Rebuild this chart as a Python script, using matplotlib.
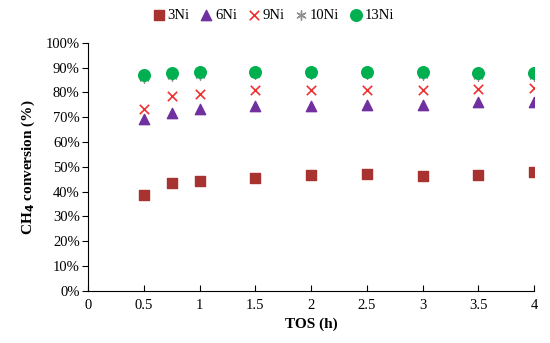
import matplotlib.pyplot as plt
from matplotlib.ticker import PercentFormatter

plt.rcParams['font.family'] = ['Liberation Serif', 'DejaVu Serif']

tos = [0.5, 0.75, 1, 1.5, 2, 2.5, 3, 3.5, 4]
ni3 = [38.7, 43.3, 44.5, 45.7, 46.9, 47.0, 46.5, 46.8, 48.0]
ni6 = [69.4, 71.8, 73.5, 74.6, 74.6, 75.0, 75.0, 76.2, 76.2]
ni9 = [73.3, 78.4, 79.4, 80.8, 80.9, 80.8, 80.8, 81.3, 81.7]
ni10 = [85.8, 86.6, 87.2, 87.3, 87.3, 87.3, 87.1, 86.8, 86.8]
ni13 = [87.1, 87.9, 88.4, 88.4, 88.4, 88.4, 88.2, 87.8, 87.8]

fig = plt.figure(figsize=(5.5, 3.43), dpi=100)
ax = fig.add_axes([0.16, 0.152, 0.811, 0.723])

ax.scatter(tos, ni3, marker='s', s=55, color='#A8322F', label='3Ni', zorder=3)
ax.scatter(tos, ni6, marker='^', s=55, color='#7030A0', label='6Ni', zorder=3)
ax.scatter(tos, ni9, marker='x', s=45, color='#F03030', linewidths=1.2, label='9Ni', zorder=3)
ax.scatter(tos, ni10, marker=(6, 2, 0), s=45, color='#909090', linewidths=1.0, label='10Ni', zorder=3)
ax.scatter(tos, ni13, marker='o', s=70, color='#00B050', label='13Ni', zorder=4)

ax.set_xlim(0, 4)
ax.set_ylim(0, 100)
ax.set_xticks([0, 0.5, 1, 1.5, 2, 2.5, 3, 3.5, 4])
ax.set_xticklabels(['0', '0.5', '1', '1.5', '2', '2.5', '3', '3.5', '4'])
ax.set_yticks(range(0, 101, 10))
ax.yaxis.set_major_formatter(PercentFormatter(decimals=0))
ax.tick_params(axis='y', direction='out', length=4, labelsize=10.5, pad=2)
ax.tick_params(axis='x', direction='in', length=4, labelsize=10.5, pad=6)
for s in ['top', 'right']:
    ax.spines[s].set_visible(False)

ax.set_xlabel('TOS (h)', fontsize=11, fontweight='bold', labelpad=4)
ax.set_ylabel('CH$_\\mathbf{4}$ conversion (%)', fontsize=11, fontweight='bold', labelpad=6)

fig.legend(loc='center', bbox_to_anchor=(0.498, 0.955), ncol=5, frameon=False,
           fontsize=10.5, handlelength=0.7, handletextpad=0.25, columnspacing=0.8,
           borderaxespad=0)

fig.savefig('out.png', dpi=100)
